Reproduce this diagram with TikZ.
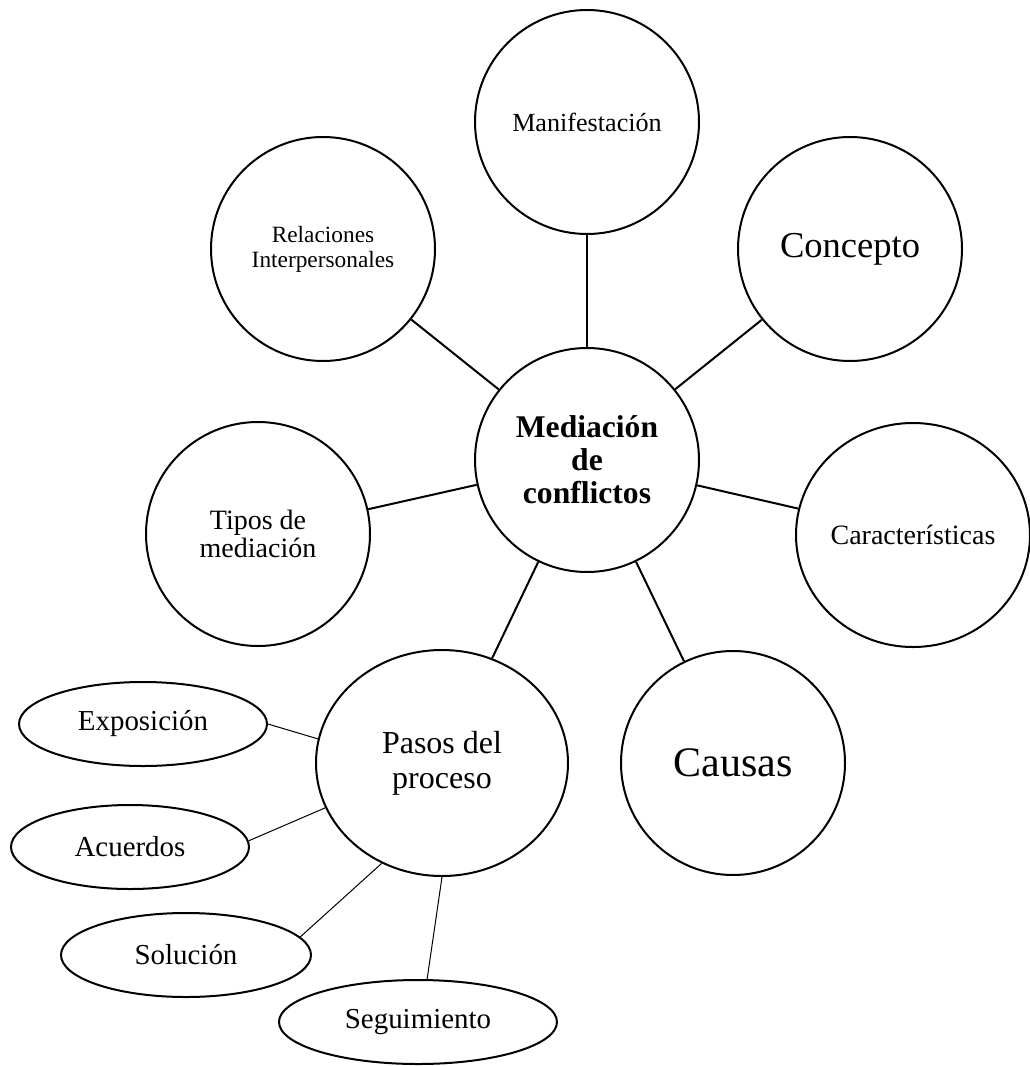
\documentclass[tikz,border=0pt]{standalone}
\usepackage{fontspec}
\setmainfont{Liberation Serif}
\usetikzlibrary{shapes.geometric}
\newcommand{\fsz}[2]{\fontsize{#1}{#2}\selectfont}

\begin{document}
\begin{tikzpicture}[x=0.75pt,y=-0.75pt]
            \useasboundingbox (0,0) rectangle (1030,1066);
            \begin{scope}[every node/.style={circle,line width=1.5pt,draw,minimum size=168pt,inner sep=0pt,align=center}]
                \node[font=\fsz{23.7pt}{24.75pt}\bfseries] (med) at (587,460) {Mediación\\de\\conflictos};
                \node[font=\fsz{19.6pt}{21pt}] (man) at (587,122) {Manifestación};
                \node[font=\fsz{17.5pt}{18.75pt}] (rel) at (323,249) {Relaciones\\Interpersonales};
                \node[font=\fsz{27.4pt}{30pt}] (con) at (850,249) {Concepto};
                \node[ellipse,minimum width=175.5pt,minimum height=168pt,font=\fsz{21pt}{23pt}] (car) at (913,535) {Características};
                \node[font=\fsz{21pt}{21pt}] (tip) at (258,534) {Tipos de\\mediación};
                \node[ellipse,minimum width=189pt,minimum height=169.5pt,font=\fsz{24pt}{26pt}] (pas) at (442,763) {Pasos del\\proceso};
                \node[font=\fsz{31.5pt}{34pt}] (cau) at (733,763) {Causas};
            \end{scope}
            \begin{scope}[every node/.style={ellipse,line width=1.5pt,draw,minimum height=63pt,inner sep=0pt,font=\fsz{21.7pt}{24pt}}]
                \node[minimum width=186pt] (expo) at (143,724) {Exposición};
                \node[minimum width=178.5pt] (acu) at (130,847) {Acuerdos};
                \node[minimum width=187.5pt] (sol) at (186,955) {Solución};
                \node[minimum width=208.5pt] (seg) at (418,1022) {Seguimiento};
            \end{scope}
            \begin{scope}[every edge/.style={line width=1.5pt,draw}]
                \path (med) edge (man);
                \path (med) edge (rel);
                \path (med) edge (con);
                \path (med) edge (car);
                \path (med) edge (tip);
                \path (med) edge (pas);
                \path (med) edge (cau);
            \end{scope}
            \begin{scope}[every edge/.style={line width=0.75pt,draw}]
                \path (expo.east) edge (pas.169);
                \path (acu.3) edge (pas.201);
                \path (sol.9) edge (pas.239);
                \path (seg.78) edge (pas.south);
            \end{scope}
        \end{tikzpicture}
\end{document}
